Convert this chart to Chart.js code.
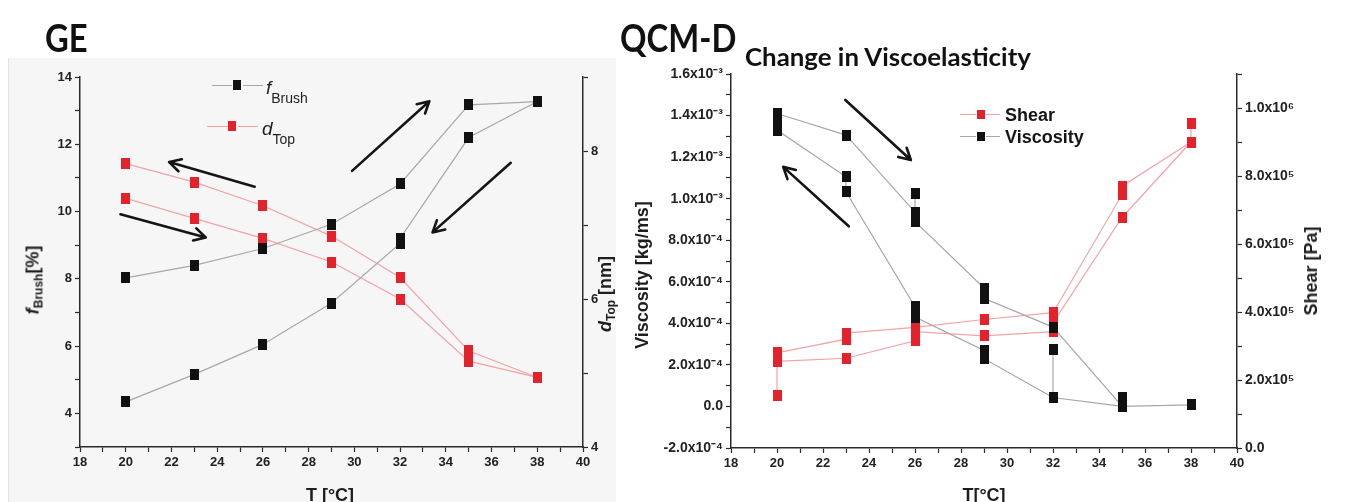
<!DOCTYPE html>
<html>
<head>
<meta charset="utf-8">
<title>GE / QCM-D</title>
<script src="https://cdn.jsdelivr.net/npm/chart.js"></script>
<style>
  html, body { margin: 0; padding: 0; }
  body { width: 1351px; height: 502px; position: relative; overflow: hidden; background: #fff;
         font-family: "Liberation Sans", Arial, sans-serif; color: #1e1e1e; }
  .abs { position: absolute; white-space: nowrap; }
  #gePanel { left: 8px; top: 58px; width: 607px; height: 444px; background: #f6f6f6; border-left: 1px solid #e3e3e3; }
  canvas { position: absolute; top: 0; }
  .big { font-family: Lato, sans-serif; font-weight: 700; font-size: 37.7px; line-height: 1;
         transform-origin: 0 0; transform: scaleX(0.87); color: #111; }
  .caption { font-family: Lato, sans-serif; font-weight: 700; font-size: 24.5px; line-height: 1; color: #111;
             transform-origin: 0 0; transform: scaleX(1.055); }
  .axv { font-weight: 700; font-size: 18px; line-height: 1; transform: translate(-50%, -50%) rotate(-90deg); }
  .axh { font-weight: 700; font-size: 18px; line-height: 1; transform: translateX(-50%); }
  .axv sub { font-size: 12px; vertical-align: -4px; }
  .seg { position: absolute; height: 1px; }
  .sq { position: absolute; }
  .legi { font-size: 19px; line-height: 1; font-style: italic; color: #222; }
  .legi sub { font-size: 14px; font-style: normal; vertical-align: -9px; }
  .legb { font-size: 18px; font-weight: 700; line-height: 1; color: #151515; }
</style>
</head>
<body>
<div id="gePanel" class="abs"></div>

<canvas id="geChart" width="615" height="502" style="left:0"></canvas>
<canvas id="qcmChart" width="736" height="502" style="left:615px"></canvas>

<div class="abs big" style="left:45px;top:18.6px">GE</div>
<div class="abs big" style="left:620px;top:18.6px">QCM-D</div>
<div class="abs caption" style="left:745px;top:45px">Change in Viscoelasticity</div>

<!-- axis titles -->
<div class="abs axv" style="left:34px;top:280px"><b><i>f</i></b><sub>Brush</sub>[%]</div>
<div class="abs axv" style="left:606px;top:294px"><b><i>d</i></b><sub>Top</sub> [nm]</div>
<div class="abs axh" style="left:330px;top:486px">T [°C]</div>
<div class="abs axv" style="left:642px;top:275px">Viscosity [kg/ms]</div>
<div class="abs axv" style="left:1311px;top:271px">Shear [Pa]</div>
<div class="abs axh" style="left:984px;top:486px">T[°C]</div>

<!-- GE legend -->
<div class="seg" style="left:212px;top:85px;width:20px;background:#a8a8a8"></div>
<div class="sq" style="left:233px;top:80px;width:8px;height:10px;background:#111"></div>
<div class="seg" style="left:243px;top:85px;width:20px;background:#a8a8a8"></div>
<div class="abs legi" style="left:266px;top:78px">f<sub>Brush</sub></div>
<div class="seg" style="left:207px;top:126px;width:21px;background:#f2a3a8"></div>
<div class="sq" style="left:228px;top:121px;width:8px;height:10px;background:#e3222b"></div>
<div class="seg" style="left:238px;top:126px;width:20px;background:#f2a3a8"></div>
<div class="abs legi" style="left:262px;top:119px">d<sub>Top</sub></div>

<!-- QCM-D legend -->
<div class="seg" style="left:960px;top:114px;width:16px;background:#f2a3a8"></div>
<div class="sq" style="left:977px;top:110px;width:8px;height:9px;background:#e3222b"></div>
<div class="seg" style="left:986px;top:114px;width:14px;background:#f2a3a8"></div>
<div class="abs legb" style="left:1005px;top:106px">Shear</div>
<div class="seg" style="left:960px;top:136px;width:16px;background:#a8a8a8"></div>
<div class="sq" style="left:977px;top:132px;width:8px;height:9px;background:#111"></div>
<div class="seg" style="left:986px;top:136px;width:14px;background:#a8a8a8"></div>
<div class="abs legb" style="left:1005px;top:128px">Viscosity</div>

<script>
// ---- GE (left panel) ----
const geTemps = [20, 23, 26, 29, 32, 35, 38];
const fBrushUp = [8.03, 8.40, 8.90, 9.62, 10.82, 13.17, 13.27];
const fBrushLowT = [20, 23, 26, 29, 32, 32, 35, 38];
const fBrushLow = [4.34, 5.16, 6.05, 7.28, 9.05, 9.2, 12.2, 13.27];
const dTopUp = [7.83, 7.58, 7.26, 6.85, 6.29, 5.30, 4.94];
const dTopLow = [7.36, 7.09, 6.82, 6.50, 6.00, 5.16, 4.94];

// ---- QCM-D (right panel), repeated measurements share a temperature ----
const viscUpT = [20, 23, 26, 26, 26, 29, 29, 32, 35, 35];
const viscUp = [1.41e-3, 1.306e-3, 0.935e-3, 1.025e-3, 0.89e-3, 0.57e-3, 0.52e-3, 0.382e-3, 0.002e-3, 0.045e-3];
const viscLowT = [20, 20, 23, 23, 26, 26, 29, 29, 32, 32, 32, 35, 38];
const viscLow = [1.37e-3, 1.33e-3, 1.105e-3, 1.033e-3, 0.48e-3, 0.43e-3, 0.27e-3, 0.23e-3, 0.043e-3, 0.275e-3, 0.043e-3, 0.0, 0.008e-3];
const shearAT = [20, 23, 23, 26, 29, 32, 35, 35, 38, 38];
const shearA = [2.8e5, 3.2e5, 3.38e5, 3.55e5, 3.78e5, 3.98e5, 7.45e5, 7.7e5, 9.0e5, 9.55e5];
const shearBT = [20, 20, 23, 26, 26, 29, 32, 32, 35, 38];
const shearB = [1.53e5, 2.55e5, 2.64e5, 3.15e5, 3.42e5, 3.3e5, 3.42e5, 3.68e5, 6.78e5, 9.0e5];

// annotation arrows: [x1, y1, x2, y2] in data units, head at the second point
const geArrows = [[25.64, 10.74, 21.9, 11.47], [19.77, 9.92, 23.5, 9.23], [29.9, 11.21, 33.28, 13.28], [36.84, 11.45, 33.42, 9.38]];
const qcmArrows = [[22.97, 1.475e-3, 25.82, 1.186e-3], [23.12, 0.867e-3, 20.27, 1.153e-3]];

const BLACK = '#111111', RED = '#e3222b', GRAY_LINE = '#a8a8a8', PINK_LINE = '#f2a3a8';
const AXIS = '#2a2a2a';

function makeSquare(color) {
  const c = document.createElement('canvas');
  c.width = 9; c.height = 11;
  const g = c.getContext('2d');
  g.fillStyle = color;
  g.fillRect(0, 0, 9, 11);
  return c;
}
const sqBlack = makeSquare(BLACK);
const sqRed = makeSquare(RED);

const pts = (xs, ys) => xs.map((x, i) => ({ x, y: ys[i] }));

function series(xs, ys, axis, dark) {
  return {
    data: pts(xs, ys),
    yAxisID: axis,
    showLine: true,
    borderColor: dark ? GRAY_LINE : PINK_LINE,
    borderWidth: 1.2,
    tension: 0,
    pointStyle: dark ? sqBlack : sqRed,
    pointRadius: 5,
  };
}

function arrowPlugin(list, axisId) {
  return {
    id: 'arrows',
    afterDatasetsDraw(chart) {
      const { ctx, scales } = chart;
      const xs = scales.x, ys = scales[axisId];
      ctx.save();
      ctx.strokeStyle = '#151515';
      ctx.lineWidth = 2.6;
      ctx.lineCap = 'round';
      list.forEach(a => {
        const x1 = xs.getPixelForValue(a[0]), y1 = ys.getPixelForValue(a[1]);
        const x2 = xs.getPixelForValue(a[2]), y2 = ys.getPixelForValue(a[3]);
        const ang = Math.atan2(y2 - y1, x2 - x1);
        ctx.beginPath();
        ctx.moveTo(x1, y1);
        ctx.lineTo(x2, y2);
        [-1, 1].forEach(s => {
          ctx.moveTo(x2, y2);
          ctx.lineTo(x2 - 13 * Math.cos(ang + s * 0.5), y2 - 13 * Math.sin(ang + s * 0.5));
        });
        ctx.stroke();
      });
      ctx.restore();
    }
  };
}

const SUP = { '-': '⁻', '0': '⁰', '1': '¹', '2': '²', '3': '³', '4': '⁴', '5': '⁵', '6': '⁶', '7': '⁷', '8': '⁸', '9': '⁹' };
function sci(v) {
  if (Math.abs(v) < 1e-12) return '0.0';
  const e = Math.floor(Math.log10(Math.abs(v)) + 1e-9);
  const m = v / Math.pow(10, e);
  return m.toFixed(1) + 'x10' + String(e).split('').map(c => SUP[c]).join('');
}

const tickFont = { family: '"Liberation Sans", Arial, sans-serif', size: 13, weight: 'bold' };
const sciFont = { family: '"Liberation Sans", Arial, sans-serif', size: 14, weight: 'bold' };

function axis(opts) {
  return Object.assign({
    type: 'linear',
    grid: { drawOnChartArea: false, drawTicks: true, tickLength: 5, tickColor: AXIS, tickWidth: 1.2 },
    border: { display: true, color: AXIS, width: 1.5 },
    ticks: { autoSkip: false, color: '#222', font: tickFont, padding: 3 },
  }, opts);
}

function xAxis() {
  const a = axis({ min: 18, max: 40, afterFit: s => { s.height = 30; } });
  a.ticks = Object.assign({}, a.ticks, { stepSize: 1, callback: v => (v % 2 === 0 ? String(v) : '') });
  return a;
}

// ---- GE chart ----
const geY = axis({ min: 3, max: 14, afterFit: s => { s.width = 80; } });
geY.ticks = Object.assign({}, geY.ticks, { stepSize: 1, callback: v => (v % 2 === 0 ? String(v) : '') });
const geY2 = axis({ min: 4, max: 9, position: 'right', afterFit: s => { s.width = 32; } });
geY2.ticks = Object.assign({}, geY2.ticks, { stepSize: 1, callback: v => (v % 2 === 0 ? String(v) : '') });

new Chart(document.getElementById('geChart'), {
  type: 'scatter',
  data: {
    datasets: [
      series(geTemps, fBrushUp, 'y', true),
      series(fBrushLowT, fBrushLow, 'y', true),
      series(geTemps, dTopUp, 'y2', false),
      series(geTemps, dTopLow, 'y2', false),
    ]
  },
  options: {
    responsive: false,
    animation: false,
    layout: { padding: { left: 0, right: 0, top: 77, bottom: 25 } },
    plugins: { legend: { display: false }, tooltip: { enabled: false } },
    scales: { x: xAxis(), y: geY, y2: geY2 },
  },
  plugins: [arrowPlugin(geArrows, 'y')],
});

// ---- QCM-D chart ----
const qY = axis({ min: -2e-4, max: 1.6e-3, afterFit: s => { s.width = 116; } });
qY.ticks = Object.assign({}, qY.ticks, { font: sciFont, stepSize: 1e-4, callback: v => (Math.round(v / 1e-4) % 2 === 0 ? sci(v) : '') });
const qY2 = axis({ min: 0, max: 1.1e6, position: 'right', afterFit: s => { s.width = 114; } });
qY2.ticks = Object.assign({}, qY2.ticks, { font: sciFont, stepSize: 1e5, callback: v => (Math.round(v / 1e5) % 2 === 0 ? sci(v) : '') });

new Chart(document.getElementById('qcmChart'), {
  type: 'scatter',
  data: {
    datasets: [
      series(viscUpT, viscUp, 'y', true),
      series(viscLowT, viscLow, 'y', true),
      series(shearAT, shearA, 'y2', false),
      series(shearBT, shearB, 'y2', false),
    ]
  },
  options: {
    responsive: false,
    animation: false,
    layout: { padding: { left: 0, right: 0, top: 74, bottom: 24 } },
    plugins: { legend: { display: false }, tooltip: { enabled: false } },
    scales: { x: xAxis(), y: qY, y2: qY2 },
  },
  plugins: [arrowPlugin(qcmArrows, 'y')],
});
</script>
</body>
</html>
